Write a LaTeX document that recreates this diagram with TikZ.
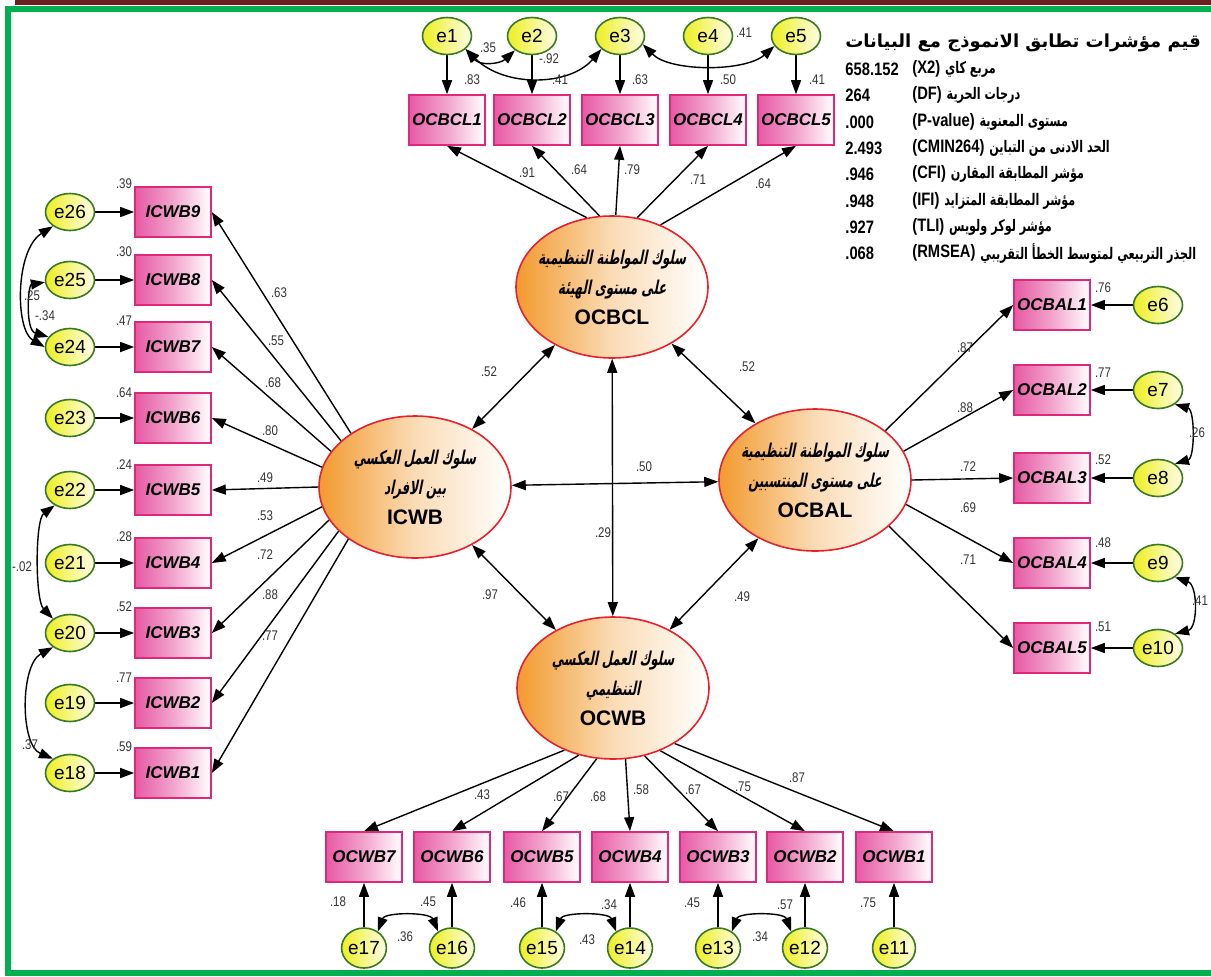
\documentclass[tikz,border=0pt]{standalone}
\usepackage{fontspec}
\setmainfont{Liberation Sans}
\newfontfamily\narrowfont[FakeStretch=0.82]{Liberation Sans}
\newfontfamily\arabicnarrow[Script=Arabic,FakeStretch=0.7]{DejaVu Sans}
\newfontfamily\arabictitle[Script=Arabic]{DejaVu Sans}
\newfontfamily\arabicslant[Script=Arabic,FakeSlant=0.2,FakeStretch=0.62]{DejaVu Sans}
\TeXXeTstate=1
\usetikzlibrary{arrows.meta,shapes.geometric}
\pgfdeclarelayer{background}
\pgfsetlayers{background,main}

\definecolor{frameGreen}{HTML}{00B050}
\definecolor{frameRed}{HTML}{6A1F22}
\definecolor{boxPink}{HTML}{E65AA5}
\definecolor{boxEdge}{HTML}{E0287A}
\definecolor{errYellow}{HTML}{EEEE22}
\definecolor{errEdge}{HTML}{3A7A1E}
\definecolor{latOrange}{HTML}{F29A2E}
\definecolor{latEdge}{HTML}{E8202A}
\definecolor{coefGray}{HTML}{333333}

\begin{document}
\begin{tikzpicture}[x=0.5pt,y=-0.5pt,
  obsbox/.style={rectangle, draw=boxEdge, line width=0.8pt,
    left color=boxPink, right color=white, middle color=boxPink!55,
    minimum width=38pt, minimum height=25pt, inner sep=0pt,
    font=\bfseries\itshape\fontsize{8.5}{9}\selectfont},
  errnode/.style={ellipse, draw=errEdge, line width=0.8pt,
    left color=errYellow, right color=white!90!errYellow,
    minimum width=24.5pt, minimum height=18.5pt, inner sep=0pt,
    font=\fontsize{9.5}{10}\selectfont},
  errround/.style={errnode, minimum width=21pt, minimum height=20pt},
  latent/.style={ellipse, draw=latEdge, line width=0.8pt,
    left color=latOrange, right color=white, middle color=latOrange!35,
    minimum width=96pt, minimum height=71pt, inner xsep=-8pt, inner ysep=-6pt,
    align=center, font=\arabicslant\bfseries\fontsize{9.5}{15}\selectfont},
  coef/.style={font=\narrowfont\fontsize{7}{8}\selectfont, text=coefGray, inner sep=0pt},
  fitnum/.style={font=\narrowfont\bfseries\fontsize{9}{10}\selectfont, inner sep=0pt, anchor=west},
  fitar/.style={font=\arabicnarrow\bfseries\fontsize{8}{10}\selectfont, inner sep=0pt, anchor=west},
  link/.style={-{Triangle[length=7pt,width=5pt]}, line width=0.7pt},
  biway/.style={{Triangle[length=7pt,width=5pt]}-{Triangle[length=7pt,width=5pt]}, line width=0.7pt}
]
\useasboundingbox (0,0) rectangle (1211,976);

% ---------- latent constructs ----------
\node[latent] (OCBCL) at (612,287) {\beginR سلوك المواطنة التنظيمية\endR\\
  \beginR على مستوى الهيئة\endR\\ {\normalfont\bfseries\fontsize{10.5}{15}\selectfont OCBCL}};
\node[latent] (ICWB) at (415,487) {\beginR سلوك العمل العكسي\endR\\
  \beginR بين الافراد\endR\\ {\normalfont\bfseries\fontsize{10.5}{15}\selectfont ICWB}};
\node[latent] (OCBAL) at (815,480) {\beginR سلوك المواطنة التنظيمية\endR\\
  \beginR على مستوى المنتسبين\endR\\ {\normalfont\bfseries\fontsize{10.5}{15}\selectfont OCBAL}};
\node[latent] (OCWB) at (613,688) {\beginR سلوك العمل العكسي\endR\\
  \beginR التنظيمي\endR\\ {\normalfont\bfseries\fontsize{10.5}{15}\selectfont OCWB}};

% ---------- indicators and their errors ----------
\foreach \i/\x in {1/447,2/532,3/620,4/708,5/796} {
  \node[errnode] (e\i) at (\x,36) {e\i};
  \node[obsbox] (OCBCL\i) at (\x,120) {OCBCL\i};
}
\foreach \i/\e/\y in {9/26/212,8/25/280,7/24/347,6/23/418,5/22/490,4/21/563,3/20/633,2/19/703,1/18/773} {
  \node[errnode] (e\e) at (70,\y) {e\e};
  \node[obsbox] (ICWB\i) at (173,\y) {ICWB\i};
}
\foreach \i/\e/\y in {1/6/305,2/7/390,3/8/478,4/9/563,5/10/648} {
  \node[obsbox] (OCBAL\i) at (1052,\y) {OCBAL\i};
  \node[errnode] (e\e) at (1158,\y) {e\e};
}
\foreach \i/\e/\x in {7/17/364,6/16/452,5/15/542,4/14/630,3/13/718,2/12/805,1/11/894} {
  \node[obsbox] (OCWB\i) at (\x,857) {OCWB\i};
  \node[errround] (e\e) at (\x,948) {e\e};
}

% ---------- connectors ----------
\begin{pgfonlayer}{background}
  \fill[frameRed] (15,0) rectangle (1211,4.5);
  \fill[frameGreen] (5,6) rectangle (1211,12);
  \fill[frameGreen] (5,6) rectangle (11,976);
  \fill[frameGreen] (5,970) rectangle (1211,976);

  % loadings
  \foreach \i/\a in {1/110,2/100,3/87,4/70,5/52}
    \draw[link] (OCBCL.\a) -- (OCBCL\i.south);
  \foreach \i/\a in {9/140,8/148,7/157,6/168,5/180,4/192,3/201,2/210,1/218}
    \draw[link] (ICWB.\a) -- (ICWB\i.east);
  \foreach \i/\a in {1/35,2/18,3/0,4/-15,5/-32}
    \draw[link] (OCBAL.\a) -- (OCBAL\i.west);
  \foreach \i/\a in {7/232,6/243,5/257,4/280,3/295,2/307,1/318}
    \draw[link] (OCWB.\a) -- (OCWB\i.north);

  % error terms
  \foreach \e/\b in {1/OCBCL1,2/OCBCL2,3/OCBCL3,4/OCBCL4,5/OCBCL5,
                     26/ICWB9,25/ICWB8,24/ICWB7,23/ICWB6,22/ICWB5,21/ICWB4,20/ICWB3,19/ICWB2,18/ICWB1,
                     6/OCBAL1,7/OCBAL2,8/OCBAL3,9/OCBAL4,10/OCBAL5,
                     17/OCWB7,16/OCWB6,15/OCWB5,14/OCWB4,13/OCWB3,12/OCWB2,11/OCWB1}
    \draw[link] (e\e) -- (\b);

  % correlations between constructs
  \draw[biway] (OCBCL) -- (ICWB);
  \draw[biway] (OCBCL) -- (OCBAL);
  \draw[biway] (ICWB) -- (OCBAL);
  \draw[biway] (OCBCL) -- (OCWB);
  \draw[biway] (ICWB) -- (OCWB);
  \draw[biway] (OCBAL) -- (OCWB);

  % correlated errors
  \draw[biway] (e1.-35) .. controls (480,66) and (500,64) .. (e2.-140);
  \draw[biway] (e1.-35) .. controls (505,88) and (570,86) .. (e3.-145);
  \draw[biway] (e3.-20) .. controls (670,72) and (745,72) .. (e5.-155);
  \draw[biway] (e26.220) .. controls (15,250) and (15,330) .. (e24.180);
  \draw[biway] (e25.185) .. controls (28,285) and (25,330) .. (e24.155);
  \draw[biway] (e22.225) .. controls (35,520) and (35,600) .. (e20.140);
  \draw[biway] (e20.220) .. controls (20,665) and (20,745) .. (e18.140);
  \draw[biway] (e7.-40) .. controls (1195,410) and (1195,458) .. (e8.40);
  \draw[biway] (e9.-40) .. controls (1198,585) and (1198,628) .. (e10.40);
  \draw[biway] (e17.50) .. controls (385,912) and (430,912) .. (e16.130);
  \draw[biway] (e15.50) .. controls (563,912) and (609,912) .. (e14.130);
  \draw[biway] (e13.50) .. controls (739,912) and (784,912) .. (e12.130);
\end{pgfonlayer}

% ---------- coefficients ----------
\foreach \n/\x/\y/\t in {
  r1/472/80/.83, r2/560/80/.41, r3/640/80/.63, r4/728/80/.50, r5/817/80/.41,
  r26/124/184/.39, r25/124/252/.30, r24/124/321/.47, r23/124/393/.64, r22/124/465/.24,
  r21/124/537/.28, r20/124/607/.52, r19/124/678/.77, r18/124/747/.59,
  r6/1103/288/.76, r7/1103/373/.77, r8/1103/460/.52, r9/1103/543/.48, r10/1103/627/.51,
  r17/338/902/.18, r16/428/902/.45, r15/518/903/.46, r14/609/905/.34, r13/692/903/.45,
  r12/785/905/.57, r11/868/903/.75,
  l1/527/173/.91, l2/579/170/.64, l3/632/170/.79, l4/698/180/.71, l5/763/184/.64,
  l6/279/293/.63, l7/276/341/.55, l8/273/383/.68, l9/270/431/.80, l10/265/478/.49,
  l11/265/516/.53, l12/265/555/.72, l13/270/595/.88, l14/270/636/.77,
  l15/965/348/.87, l16/965/408/.88, l17/968/467/.72, l18/968/508/.69, l19/968/560/.71,
  l20/482/795/.43, l21/561/797/.67, l22/598/797/.68, l23/641/790/.58, l24/693/790/.67,
  l25/743/787/.75, l26/797/778/.87,
  c1/489/372/.52, c2/747/367/.52, c3/644/467/.50, c4/603/533/.29, c5/490/595/.97, c6/742/597/.49,
  k1/488/48/.35, k2/549/59/-.92, k3/744/33/.41, k4/32/296/.25, k5/45/316/-.34,
  k6/22/567/-.02, k7/30/745/.37, k8/1197/433/.26, k9/1200/601/.41,
  k10/405/937/.36, k11/587/940/.43, k12/760/937/.34}
  \node[coef] (\n) at (\x,\y) {\t};

% ---------- fit indices ----------
\node[fitar, font=\arabictitle\bfseries\fontsize{9}{10}\selectfont] (fitTitle) at (845,43)
  {\beginR قيم مؤشرات تطابق الانموذج مع البيانات\endR};
\foreach \k/\y/\v/\p/\a in {
  1/69/658.152/(X2)/مربع كاي,
  2/95/264/(DF)/درجات الحرية,
  3/122/.000/(P-value)/مستوى المعنوية,
  4/148/2.493/(CMIN264)/الحد الادنى من التباين,
  5/174/.946/(CFI)/مؤشر المطابقة المقارن,
  6/201/.948/(IFI)/مؤشر المطابقة المتزايد,
  7/227/.927/(TLI)/مؤشر لوكر ولويس,
  8/253/.068/(RMSEA)/الجذر التربيعي لمتوسط الخطأ التقريبي} {
  \node[fitnum] (fitV\k) at (845,\y) {\v};
  \node[fitnum] (fitP\k) at (912,\y) {\p};
  \node[fitar] (fitA\k) at ([xshift=2pt]fitP\k.east) {\beginR \a\endR};
}
\end{tikzpicture}
\end{document}
